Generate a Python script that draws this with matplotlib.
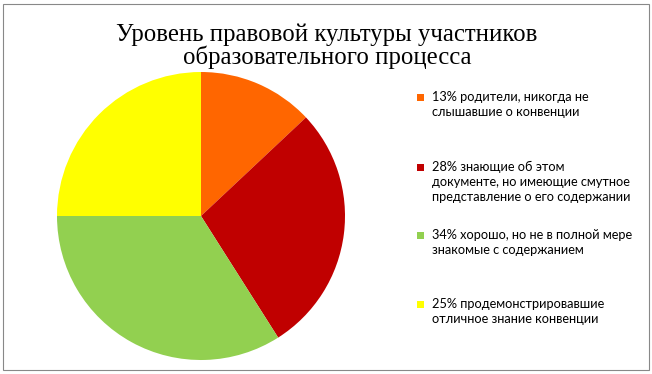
import matplotlib.pyplot as plt
from matplotlib.patches import Rectangle

shares = [13, 28, 34, 25]
colors = ['#FF6600', '#C00000', '#92D050', '#FFFF00']
labels = ['13% родители, никогда не\nслышавшие о конвенции',
          '28% знающие об этом\nдокументе, но имеющие смутное\nпредставление о его содержании',
          '34% хорошо, но не в полной мере\nзнакомые с содержанием',
          '25% продемонстрировавшие\nотличное знание конвенции']
title = 'Уровень правовой культуры участников\nобразовательного процесса'

fig = plt.figure(figsize=(6.52, 3.74), dpi=100)
fig.patches.append(Rectangle((3 / 652, 4 / 374), 646 / 652, 366 / 374, transform=fig.transFigure,
                             fill=False, edgecolor='#888888', linewidth=0.8))

ax = fig.add_axes([57 / 652, 14 / 374, 288 / 652, 288 / 374])
ax.pie(shares, colors=colors, startangle=90, counterclock=False,
       wedgeprops=dict(linewidth=0))
ax.set_xlim(-1, 1)
ax.set_ylim(-1, 1)
ax.set_aspect('equal')

fig.text(327 / 652, 1 - 46 / 374, title, ha='center', va='center', fontsize=17.8,
         family='Liberation Serif', linespacing=1.0)

tops = [92, 162, 230, 299]
for lab, col, top in zip(labels, colors, tops):
    fig.patches.append(Rectangle((417 / 652, 1 - (top + 9) / 374), 7 / 652, 7 / 374,
                                 transform=fig.transFigure, facecolor=col, edgecolor='none'))
    fig.text(432 / 652, 1 - (top - 1) / 374, lab, ha='left', va='top', fontsize=9.2,
             family='Lato', linespacing=1.3)

fig.savefig('out.png', dpi=100)
